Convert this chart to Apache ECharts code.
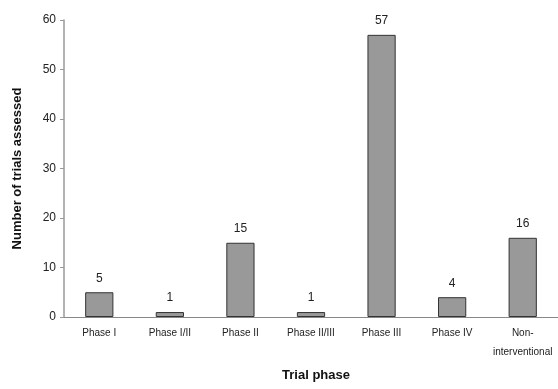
<!DOCTYPE html>
<html><head><meta charset="utf-8">
<script src="https://cdn.jsdelivr.net/npm/echarts@6/dist/echarts.min.js"></script>
<style>html,body{margin:0;padding:0;background:#fff}#c{width:558px;height:389px}</style>
</head><body><div id="c"></div>
<script>
const categories = ['Phase I', 'Phase I/II', 'Phase II', 'Phase II/III', 'Phase III', 'Phase IV', 'Non-\ninterventional'];
const values = [5, 1, 15, 1, 57, 4, 16];
const yTicks = [0, 10, 20, 30, 40, 50, 60];

const chart = echarts.init(document.getElementById('c'));
chart.setOption({
  animation: false,
  backgroundColor: '#fff',
  textStyle: { fontFamily: 'Liberation Sans, Arial, sans-serif' },
  grid: { left: 64, top: 20, bottom: 72, right: -3 },
  xAxis: {
    type: 'category',
    data: categories,
    name: 'Trial phase',
    nameLocation: 'middle',
    nameGap: 52,
    nameTextStyle: { fontSize: 13, fontWeight: 'bold', color: '#111', padding: [0, 0, 0, 10] },
    axisLine: { lineStyle: { color: '#888', width: 1 } },
    axisTick: { show: false },
    axisLabel: { fontSize: 10, color: '#222', margin: 7, interval: 0, lineHeight: 19 }
  },
  yAxis: {
    type: 'value',
    min: yTicks[0], max: yTicks[yTicks.length - 1], interval: 10,
    name: 'Number of trials assessed',
    nameLocation: 'middle',
    nameGap: 40,
    nameTextStyle: { fontSize: 13, fontWeight: 'bold', color: '#111' },
    axisLine: { show: true, lineStyle: { color: '#999', width: 1.5 } },
    axisTick: { show: true, length: 4, lineStyle: { color: '#999' } },
    axisLabel: { fontSize: 12, color: '#222', margin: 8 },
    splitLine: { show: false }
  },
  series: [{
    type: 'bar',
    data: values,
    barWidth: '40%',
    itemStyle: { color: '#999999', borderColor: '#333', borderWidth: 1 },
    label: { show: true, position: 'top', fontSize: 12, color: '#222', distance: 8 }
  }]
});
</script></body></html>
